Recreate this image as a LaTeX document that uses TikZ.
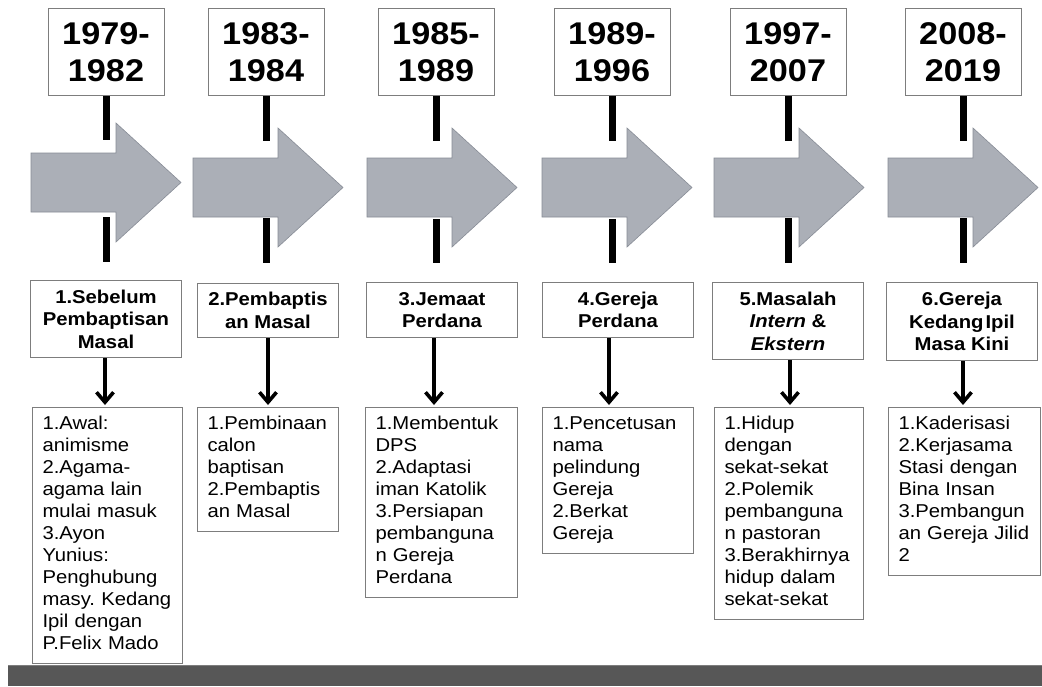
\documentclass[tikz,border=0pt]{standalone}
\usepackage{fontspec}
\setmainfont{Liberation Sans}[FakeStretch=1.09]
\usetikzlibrary{arrows.meta}
\definecolor{boxline}{RGB}{125,125,125}
\definecolor{arrfill}{RGB}{171,175,183}
\definecolor{arredge}{RGB}{135,140,150}
\definecolor{barcol}{RGB}{87,87,87}
\definecolor{barline}{RGB}{125,125,125}
\newcommand{\yrfnt}{\fontsize{31.4}{37}\selectfont\bfseries}
\newcommand{\ttfnt}{\fontsize{18.6}{22.5}\selectfont\bfseries}
\newcommand{\dtfnt}{\fontsize{18.6}{22}\selectfont}
\frenchspacing
\begin{document}
\begin{tikzpicture}[x=1pt,y=-1pt,
  yearbox/.style={draw=boxline, line width=1pt, fill=white, minimum width=116pt, minimum height=87pt, anchor=north, align=center, inner sep=0pt, font=\yrfnt},
  titlebox/.style={draw=boxline, line width=1pt, fill=white, anchor=north west, align=center, inner sep=0pt, font=\ttfnt},
  detbox/.style={draw=boxline, line width=1pt, fill=white, anchor=north west, inner xsep=10pt, inner ysep=7pt, align=left, font=\dtfnt},
  tickbar/.style={line width=7pt},
  darrow/.style={line width=3.6pt, -{Straight Barb[length=10pt,width=17pt]}},
  bigarrow/.style={fill=arrfill, draw=arredge, line width=0.6pt}]
\useasboundingbox (0,0) rectangle (1042,686);
\fill[white] (0,0) rectangle (1042,686);

% big arrows
\foreach \L/\d in {31/-5,193/0,367/0,542/0,714/0,888/0}{
  \path[bigarrow] (\L,158+\d) -- ({\L+85},158+\d) -- ({\L+85},128+\d) -- ({\L+150},187.5+\d)
     -- ({\L+85},247+\d) -- ({\L+85},217+\d) -- (\L,217+\d) -- cycle;
}

% year boxes
\node[yearbox] (y1) at (106,8) {1979-\\1982};
\node[yearbox] (y2) at (266,8) {1983-\\1984};
\node[yearbox] (y3) at (436,8) {1985-\\1989};
\node[yearbox] (y4) at (612,8) {1989-\\1996};
\node[yearbox] (y5) at (788,8) {1997-\\2007};
\node[yearbox] (y6) at (963,8) {2008-\\2019};

% tick coordinates
\coordinate (u1) at (106,140); \coordinate (a1) at (106,217); \coordinate (b1) at (106,262);
\coordinate (u2) at (266,141); \coordinate (a2) at (266,218); \coordinate (b2) at (266,263);
\coordinate (u3) at (436,141); \coordinate (a3) at (436,219); \coordinate (b3) at (436,263);
\coordinate (u4) at (612,141); \coordinate (a4) at (612,219); \coordinate (b4) at (612,263);
\coordinate (u5) at (788,141); \coordinate (a5) at (788,218); \coordinate (b5) at (788,263);
\coordinate (u6) at (963,141); \coordinate (a6) at (963,218); \coordinate (b6) at (963,263);
\foreach \i in {1,...,6}{
  \draw[tickbar] (y\i.south) -- (u\i);
  \draw[tickbar] (a\i) -- (b\i);
}

% title boxes
\node[titlebox, minimum width=151pt, minimum height=77pt] (t1) at (30,280) {1.Sebelum\\Pembaptisan\\Masal};
\node[titlebox, minimum width=141pt, minimum height=54pt] (t2) at (197,283) {2.Pembaptis\\an Masal};
\node[titlebox, minimum width=151pt, minimum height=55pt] (t3) at (366,282) {3.Jemaat\\Perdana};
\node[titlebox, minimum width=151pt, minimum height=55pt] (t4) at (542,282) {4.Gereja\\Perdana};
\node[titlebox, minimum width=151pt, minimum height=77pt] (t5) at (712,282) {5.Masalah\\\textit{Intern} \&\\\textit{Ekstern}};
\node[titlebox, minimum width=151pt, minimum height=78pt] (t6) at (886,282) {6.Gereja\\Kedang\hspace{2pt}Ipil\\Masa Kini};

% detail boxes
\node[detbox, text width=130pt] (d1) at (32,407) {\begin{tabular}{@{}l@{}}1.Awal:\\animisme\\2.Agama-\\agama lain\\mulai masuk\\3.Ayon\\Yunius:\\Penghubung\\masy. Kedang\\Ipil dengan\\P.Felix Mado\end{tabular}};
\node[detbox, text width=121pt] (d2) at (197,407) {\begin{tabular}{@{}l@{}}1.Pembinaan\\calon\\baptisan\\2.Pembaptis\\an Masal\end{tabular}};
\node[detbox, text width=132pt] (d3) at (365,407) {\begin{tabular}{@{}l@{}}1.Membentuk\\DPS\\2.Adaptasi\\iman Katolik\\3.Persiapan\\pembanguna\\n Gereja\\Perdana\end{tabular}};
\node[detbox, text width=131pt] (d4) at (542,407) {\begin{tabular}{@{}l@{}}1.Pencetusan\\nama\\pelindung\\Gereja\\2.Berkat\\Gereja\end{tabular}};
\node[detbox, text width=129pt] (d5) at (714,407) {\begin{tabular}{@{}l@{}}1.Hidup\\dengan\\sekat-sekat\\2.Polemik\\pembanguna\\n pastoran\\3.Berakhirnya\\hidup dalam\\sekat-sekat\end{tabular}};
\node[detbox, text width=132pt] (d6) at (888,407) {\begin{tabular}{@{}l@{}}1.Kaderisasi\\2.Kerjasama\\Stasi dengan\\Bina Insan\\3.Pembangun\\an Gereja Jilid\\2\end{tabular}};

% down arrows
\coordinate (x1) at (105,0); \coordinate (x2) at (268,0); \coordinate (x3) at (434,0);
\coordinate (x4) at (609,0); \coordinate (x5) at (790,0); \coordinate (x6) at (963,0);
\foreach \i in {1,...,6}{
  \draw[darrow] (t\i.south -| x\i) -- ([yshift=2pt]d\i.north -| x\i);
}

% bottom bar
\fill[barcol] (8,665) rectangle (1042,686);
\draw[barline, line width=1pt] (8,665.5) -- (1042,665.5);
\end{tikzpicture}
\end{document}
